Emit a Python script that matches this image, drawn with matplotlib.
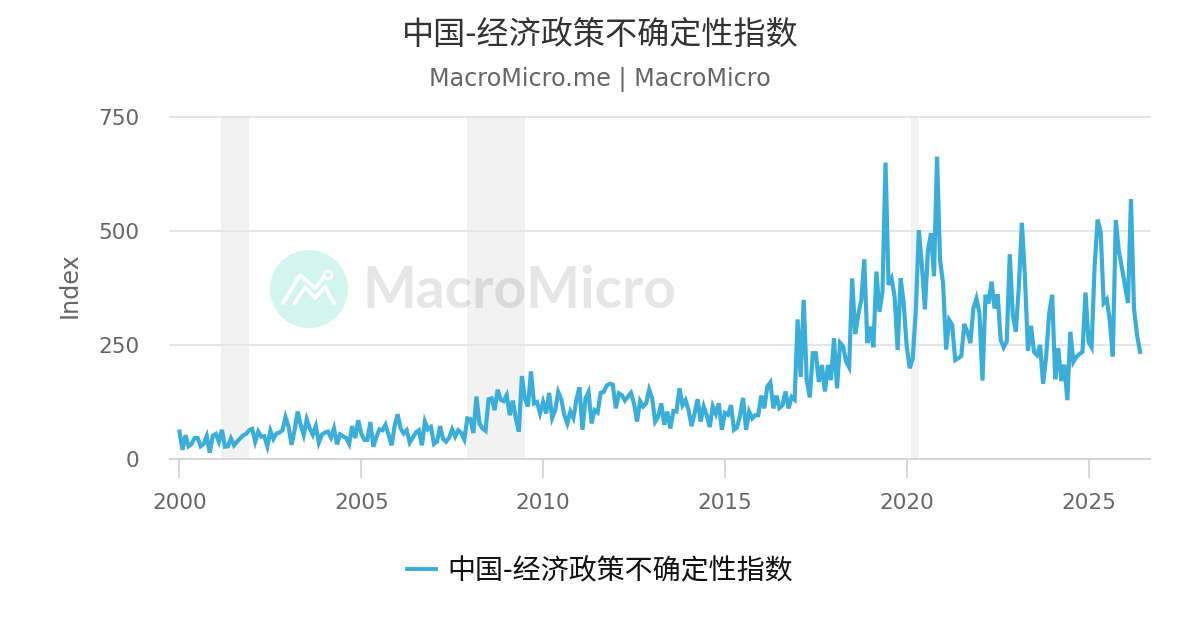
#!/usr/bin/env python3
"""China economic policy uncertainty index, MacroMicro style."""

import matplotlib

matplotlib.use("Agg")
import matplotlib.pyplot as plt
from matplotlib.lines import Line2D
from matplotlib.patches import Circle

plt.rcParams["font.family"] = ["DejaVu Sans", "Noto Sans CJK SC"]

TITLE = "中国-经济政策不确定性指数"
SUBTITLE = "MacroMicro.me | MacroMicro"
WATERMARK = "MacroMicro"
START_YEAR = 2000

# monthly values, one row per year
VALUES = [
    60, 20, 52, 28, 33, 46, 46, 28, 33, 50, 14, 51,
    55, 38, 64, 27, 28, 45, 30, 38, 45, 52, 55, 63,
    66, 38, 60, 49, 50, 28, 62, 44, 56, 58, 63, 92,
    71, 31, 63, 104, 75, 53, 87, 67, 53, 72, 36, 53,
    58, 60, 47, 67, 32, 54, 50, 46, 33, 72, 46, 85,
    56, 42, 42, 81, 27, 49, 65, 63, 75, 53, 30, 72,
    98, 67, 56, 63, 36, 47, 58, 63, 30, 82, 65, 70,
    33, 38, 72, 44, 38, 47, 65, 49, 63, 57, 43, 89,
    87, 57, 137, 78, 67, 62, 131, 133, 107, 152, 130, 127,
    140, 96, 128, 89, 60, 182, 133, 115, 192, 122, 125, 100,
    125, 100, 145, 90, 107, 147, 131, 96, 78, 104, 90, 130,
    157, 64, 133, 147, 78, 107, 102, 145, 147, 161, 165, 163,
    111, 144, 140, 128, 137, 145, 122, 82, 127, 115, 122, 152,
    133, 82, 93, 122, 75, 104, 67, 105, 104, 155, 118, 129,
    107, 72, 100, 131, 82, 115, 96, 70, 115, 99, 122, 64,
    101, 97, 118, 64, 69, 96, 134, 64, 104, 89, 96, 96,
    139, 111, 159, 168, 111, 139, 112, 118, 148, 111, 136, 130,
    306, 180, 349, 173, 135, 232, 232, 169, 206, 148, 206, 173,
    265, 155, 255, 247, 213, 201, 396, 274, 316, 349, 438, 254,
    290, 245, 411, 323, 367, 650, 382, 396, 356, 239, 396, 341,
    247, 199, 221, 327, 502, 425, 328, 458, 495, 401, 663, 436,
    385, 240, 305, 294, 217, 221, 226, 296, 279, 254, 330, 352,
    320, 172, 360, 341, 389, 330, 361, 261, 245, 257, 449, 316,
    279, 378, 518, 400, 238, 292, 235, 228, 250, 165, 224, 319,
    360, 175, 243, 171, 207, 129, 279, 213, 224, 230, 235, 365,
    257, 245, 422, 525, 498, 342, 350, 305, 225, 523, 456, 420,
    381, 342, 570, 330, 272, 235,
]
DATES = [START_YEAR + i / 12 for i in range(len(VALUES))]

RECESSIONS = [(2001.14, 2001.91), (2007.9, 2009.5), (2020.13, 2020.34)]
X_TICKS = [2000, 2005, 2010, 2015, 2020, 2025]
Y_TICKS = [0, 250, 500, 750]

LINE_COLOR = "#3aaedb"
GREY = "#666666"

fig = plt.figure(figsize=(12, 6.3), dpi=100)

# watermark logo sits under the chart, placed in pixel-like figure coordinates
wm = fig.add_axes([0, 0, 1, 1], zorder=-1)
wm.set_xlim(0, 1200)
wm.set_ylim(630, 0)
wm.axis("off")
wm.add_patch(Circle((309, 289), 39, color="#d3f5f0", lw=0))
wm.plot([283, 300, 315, 323], [303, 275, 288, 278], color="white", lw=2.8, solid_capstyle="round")
wm.plot([295, 305, 315, 325, 334], [303, 287, 298, 287, 303], color="white", lw=2.8, solid_capstyle="round")
wm.add_patch(Circle((328, 275), 4, fc="#d3f5f0", ec="white", lw=2))
wm.text(362, 291, WATERMARK, ha="left", va="center", fontsize=41, fontweight="bold",
        family="Lato", color="#e6e6e6")

ax = fig.add_axes([170 / 1200, 1 - 459 / 630, 980 / 1200, 342 / 630])
ax.patch.set_alpha(0)

for start, end in RECESSIONS:
    ax.axvspan(start, end, color="black", alpha=0.05, lw=0, zorder=0)

ax.plot(DATES, VALUES, color=LINE_COLOR, lw=3.0, solid_joinstyle="miter", zorder=4)

ax.set_xlim(1999.74, 2026.69)
ax.set_ylim(0, 750)
ax.set_xticks(X_TICKS)
ax.set_yticks(Y_TICKS)
ax.tick_params(axis="x", length=13.5, width=1.44, color="#d8d8d8", labelsize=15.5, labelcolor=GREY, pad=11)
ax.tick_params(axis="y", length=0, labelsize=15.5, labelcolor=GREY, pad=22)
ax.grid(axis="y", color="#e6e6e6", lw=1.44, zorder=1, clip_on=False)
ax.set_axisbelow(True)
for side in ("top", "right", "left"):
    ax.spines[side].set_visible(False)
ax.spines["bottom"].set_color("#d8d8d8")
ax.spines["bottom"].set_linewidth(1.44)

fig.text(70 / 1200, 1 - 285 / 630, "Index", rotation=90, ha="center", va="center", fontsize=17.2, color=GREY)
fig.text(600 / 1200, 1 - 35 / 630, TITLE, ha="center", va="center", fontsize=23.1, color="#333333",
         family=["Noto Sans CJK SC", "DejaVu Sans"])
fig.text(600 / 1200, 1 - 80 / 630, SUBTITLE, ha="center", va="center", fontsize=17.2, color=GREY)

handle = Line2D([0], [0], color=LINE_COLOR, lw=2.8)
fig.legend(
    [handle],
    [TITLE],
    loc="center",
    bbox_to_anchor=(600 / 1200, 1 - 571 / 630),
    frameon=False,
    handlelength=1.05,
    handletextpad=0.4,
    prop={"family": ["Noto Sans CJK SC", "DejaVu Sans"], "size": 20.2},
    labelcolor="#111111",
)

fig.savefig("out.png", dpi=100)
plt.close(fig)
